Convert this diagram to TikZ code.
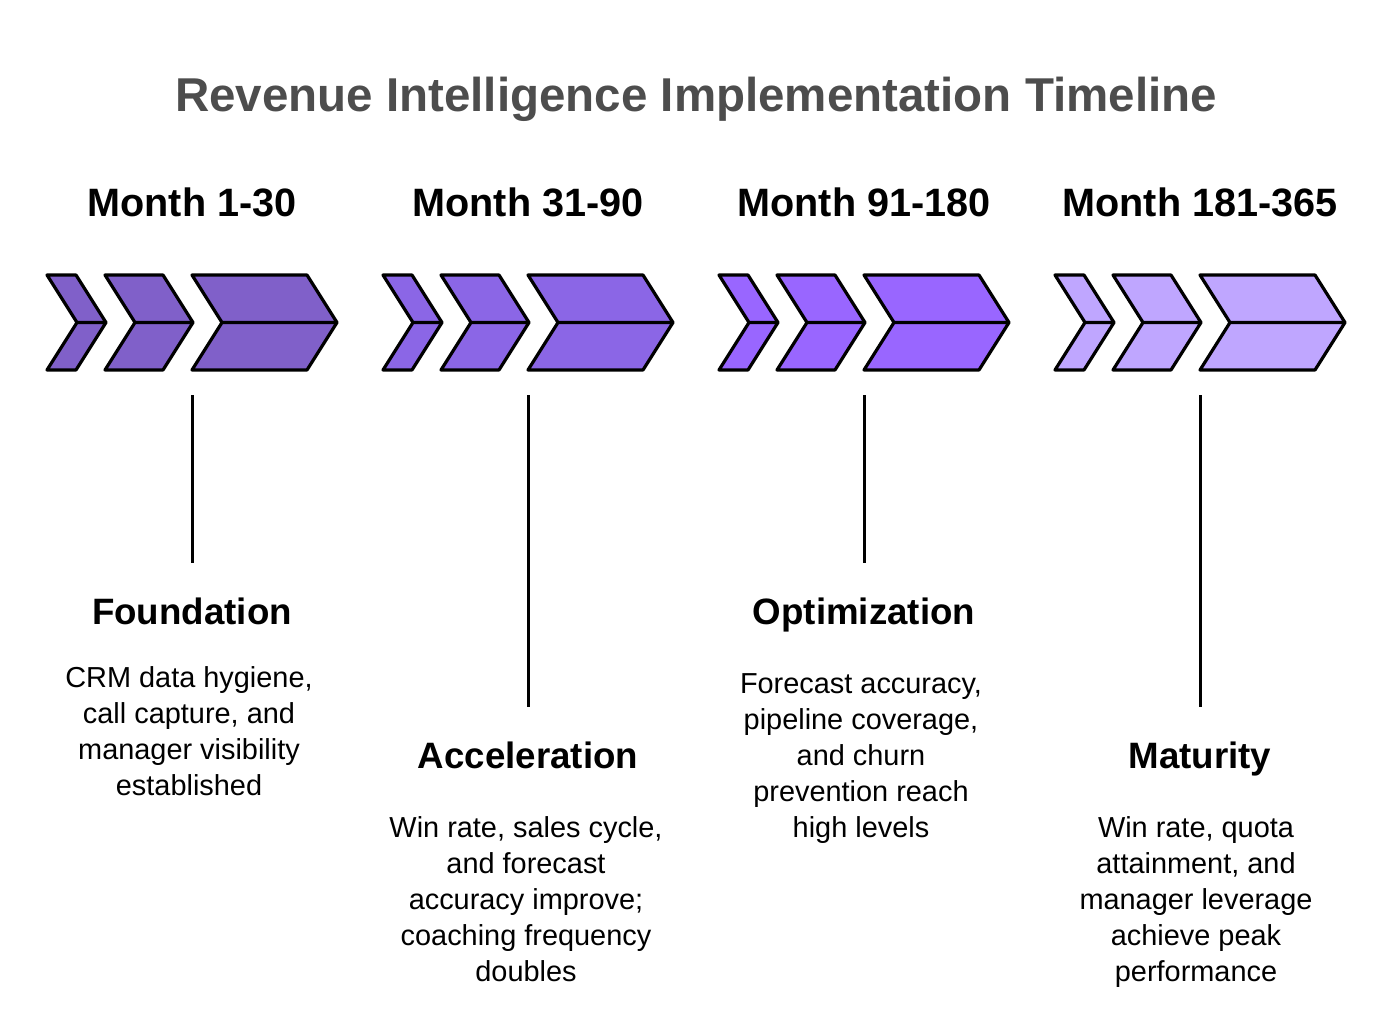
\documentclass[tikz,border=0pt]{standalone}
\usepackage{fontspec}
\setmainfont{Liberation Sans}
\definecolor{titlegray}{HTML}{4D4D4D}
\definecolor{phaseone}{HTML}{8060C9}
\definecolor{phasetwo}{HTML}{8B66E6}
\definecolor{phasethree}{HTML}{9966FF}
\definecolor{phasefour}{HTML}{BFA6FF}

\begin{document}
\begin{tikzpicture}[x=1pt,y=-1pt,
    chev/.style={draw=black, line width=3.2pt, line join=round},
    stem/.style={draw=black, line width=3pt},
    month/.style={font=\fontsize{39.6}{44}\selectfont\bfseries, anchor=base},
    phase/.style={font=\fontsize{36.7}{42}\selectfont\bfseries, anchor=base},
    detail/.style={font=\fontsize{28.9}{36}\selectfont, align=center, anchor=base}]
    \useasboundingbox (0,0) rectangle (1392,1032);

    % Title
    \node[font=\fontsize{47.5}{52}\selectfont\bfseries, text=titlegray, anchor=base] (title) at (696,112) {Revenue Intelligence Implementation Timeline};

    % Month 1-30 (detail node sits on the baseline of its last line)
    \begin{scope}
        \node[month] (month1) at (192,217) {Month 1-30};
        \draw[chev, fill=phaseone] (47,275) -- (76,275) -- (106,322.5) -- (76,370) -- (47,370) -- (77,322.5) -- cycle (77,322.5) -- (106,322.5);
        \draw[chev, fill=phaseone] (105,275) -- (163,275) -- (193,322.5) -- (163,370) -- (105,370) -- (135,322.5) -- cycle (135,322.5) -- (193,322.5);
        \draw[chev, fill=phaseone] (192,275) -- (307,275) -- (337,322.5) -- (307,370) -- (192,370) -- (222,322.5) -- cycle (222,322.5) -- (337,322.5);
        \coordinate (top1) at (192,395);
        \coordinate (bot1) at (192,563);
        \draw[stem] (top1) -- (bot1);
        \node[phase] (phase1) at (192,624) {Foundation};
        \node[detail] (detail1) at (189,795) {CRM data hygiene,\\call capture, and\\manager visibility\\established};
    \end{scope}

    % Month 31-90
    \begin{scope}[xshift=336pt]
        \node[month] (month2) at (192,217) {Month 31-90};
        \draw[chev, fill=phasetwo] (47,275) -- (76,275) -- (106,322.5) -- (76,370) -- (47,370) -- (77,322.5) -- cycle (77,322.5) -- (106,322.5);
        \draw[chev, fill=phasetwo] (105,275) -- (163,275) -- (193,322.5) -- (163,370) -- (105,370) -- (135,322.5) -- cycle (135,322.5) -- (193,322.5);
        \draw[chev, fill=phasetwo] (192,275) -- (307,275) -- (337,322.5) -- (307,370) -- (192,370) -- (222,322.5) -- cycle (222,322.5) -- (337,322.5);
        \coordinate (top2) at (192,395);
        \coordinate (bot2) at (192,707);
        \draw[stem] (top2) -- (bot2);
        \node[phase] (phase2) at (192,768) {Acceleration};
        \node[detail] (detail2) at (190,981) {Win rate, sales cycle,\\and forecast\\accuracy improve;\\coaching frequency\\doubles};
    \end{scope}

    % Month 91-180
    \begin{scope}[xshift=672pt]
        \node[month] (month3) at (192,217) {Month 91-180};
        \draw[chev, fill=phasethree] (47,275) -- (76,275) -- (106,322.5) -- (76,370) -- (47,370) -- (77,322.5) -- cycle (77,322.5) -- (106,322.5);
        \draw[chev, fill=phasethree] (105,275) -- (163,275) -- (193,322.5) -- (163,370) -- (105,370) -- (135,322.5) -- cycle (135,322.5) -- (193,322.5);
        \draw[chev, fill=phasethree] (192,275) -- (307,275) -- (337,322.5) -- (307,370) -- (192,370) -- (222,322.5) -- cycle (222,322.5) -- (337,322.5);
        \coordinate (top3) at (192,395);
        \coordinate (bot3) at (192,563);
        \draw[stem] (top3) -- (bot3);
        \node[phase] (phase3) at (192,624) {Optimization};
        \node[detail] (detail3) at (189,837) {Forecast accuracy,\\pipeline coverage,\\and churn\\prevention reach\\high levels};
    \end{scope}

    % Month 181-365
    \begin{scope}[xshift=1008pt]
        \node[month] (month4) at (192,217) {Month 181-365};
        \draw[chev, fill=phasefour] (47,275) -- (76,275) -- (106,322.5) -- (76,370) -- (47,370) -- (77,322.5) -- cycle (77,322.5) -- (106,322.5);
        \draw[chev, fill=phasefour] (105,275) -- (163,275) -- (193,322.5) -- (163,370) -- (105,370) -- (135,322.5) -- cycle (135,322.5) -- (193,322.5);
        \draw[chev, fill=phasefour] (192,275) -- (307,275) -- (337,322.5) -- (307,370) -- (192,370) -- (222,322.5) -- cycle (222,322.5) -- (337,322.5);
        \coordinate (top4) at (192,395);
        \coordinate (bot4) at (192,707);
        \draw[stem] (top4) -- (bot4);
        \node[phase] (phase4) at (192,768) {Maturity};
        \node[detail] (detail4) at (188,981) {Win rate, quota\\attainment, and\\manager leverage\\achieve peak\\performance};
    \end{scope}
\end{tikzpicture}
\end{document}
